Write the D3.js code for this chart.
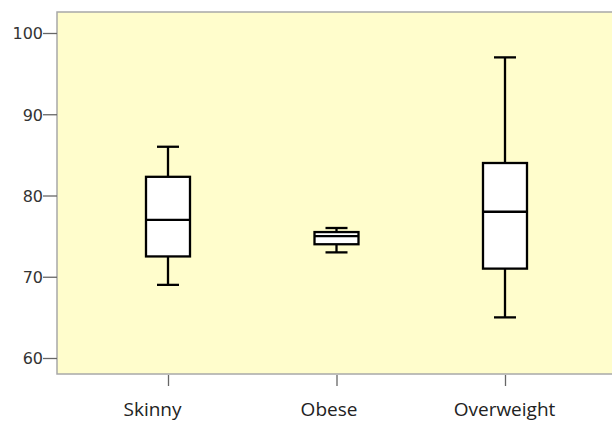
<!DOCTYPE html>
<html><head><meta charset="utf-8">
<script src="https://cdn.jsdelivr.net/npm/d3@7"></script>
<style>body{margin:0;background:#fff}svg{display:block}</style>
</head><body>
<script>
const categories = ["Skinny", "Obese", "Overweight"];
const whiskerLow  = [69, 73, 65];
const q1          = [72.5, 74, 71];
const median      = [77, 75, 78];
const q3          = [82.3, 75.5, 84];
const whiskerHigh = [86, 76, 97];
const yTicks = [60, 70, 80, 90, 100];

const W = 612, H = 422;
const svg = d3.select("body").append("svg").attr("width", W).attr("height", H);

const plotL = 57, plotT = 12, plotB = 374, plotR = 640;
const y = d3.scaleLinear().domain([60, 100]).range([358, 33]);
const x = d3.scalePoint().domain(categories).range([168, 505]);

svg.append("rect").attr("x", plotL).attr("y", plotT)
  .attr("width", plotR - plotL).attr("height", plotB - plotT)
  .attr("fill", "#FFFDCC").attr("stroke", "#A8A8A8").attr("stroke-width", 1.5);

// y axis
const yAxis = d3.axisLeft(y).tickValues(yTicks).tickSize(14).tickSizeOuter(0);
const gy = svg.append("g").attr("transform", `translate(${plotL},0)`).call(yAxis);
gy.select(".domain").remove();
gy.selectAll(".tick line").attr("stroke", "#666").attr("stroke-width", 1.3);
gy.selectAll(".tick text").attr("fill", "#333").attr("font-family", "DejaVu Sans, sans-serif")
  .attr("font-size", 16).attr("x", -14).attr("dy", "0.36em");

// x axis
const labelShift = {Skinny: -16, Obese: -8, Overweight: -1};
const xAxis = d3.axisBottom(x).tickSize(11).tickSizeOuter(0);
const gx = svg.append("g").attr("transform", `translate(0,${plotB + 1})`).call(xAxis);
gx.select(".domain").remove();
gx.selectAll(".tick line").attr("stroke", "#666").attr("stroke-width", 1.3);
gx.selectAll(".tick text").attr("fill", "#222").attr("font-family", "Open Sans, sans-serif")
  .attr("font-size", 19).attr("y", 41).attr("dy", 0)
  .attr("dx", d => labelShift[d] || 0);

const boxW = 44, capW = 22;
const data = categories.map((c, i) => ({c, lo: whiskerLow[i], q1: q1[i], med: median[i], q3: q3[i], hi: whiskerHigh[i]}));
const g = svg.append("g").selectAll("g").data(data).join("g");
const sw = 2.3;
g.append("line").attr("x1", d => x(d.c)).attr("x2", d => x(d.c))
  .attr("y1", d => y(d.hi)).attr("y2", d => y(d.q3)).attr("stroke", "#000").attr("stroke-width", sw);
g.append("line").attr("x1", d => x(d.c)).attr("x2", d => x(d.c))
  .attr("y1", d => y(d.q1)).attr("y2", d => y(d.lo)).attr("stroke", "#000").attr("stroke-width", sw);
g.append("line").attr("x1", d => x(d.c) - capW/2).attr("x2", d => x(d.c) + capW/2)
  .attr("y1", d => y(d.hi)).attr("y2", d => y(d.hi)).attr("stroke", "#000").attr("stroke-width", sw);
g.append("line").attr("x1", d => x(d.c) - capW/2).attr("x2", d => x(d.c) + capW/2)
  .attr("y1", d => y(d.lo)).attr("y2", d => y(d.lo)).attr("stroke", "#000").attr("stroke-width", sw);
g.append("rect").attr("x", d => x(d.c) - boxW/2).attr("width", boxW)
  .attr("y", d => y(d.q3)).attr("height", d => y(d.q1) - y(d.q3))
  .attr("fill", "#fff").attr("stroke", "#000").attr("stroke-width", sw);
g.append("line").attr("x1", d => x(d.c) - boxW/2).attr("x2", d => x(d.c) + boxW/2)
  .attr("y1", d => y(d.med)).attr("y2", d => y(d.med)).attr("stroke", "#000").attr("stroke-width", sw);
</script>
</body></html>
